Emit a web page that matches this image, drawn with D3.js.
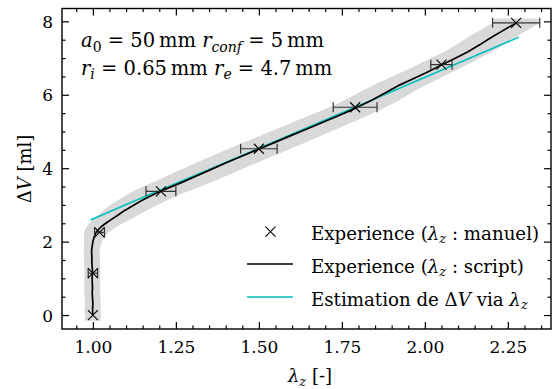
<!DOCTYPE html>
<html>
<head>
<meta charset="utf-8">
<script src="https://cdn.jsdelivr.net/npm/d3@7"></script>
<style>
  html, body { margin: 0; padding: 0; background: #fff; }
  svg { display: block; font-family: "DejaVu Serif", serif; }
</style>
</head>
<body>
<svg id="chart" width="556" height="389"></svg>
<script>
// Stretch ratio λz (script tracking) and volume change ΔV [ml]
const curveLambda = [1.000, 0.999, 1.000, 0.999, 0.998, 0.999, 0.998, 0.998, 0.999, 0.998, 0.997, 0.997, 0.996, 0.998,
  1.000, 1.003, 1.007, 1.012, 1.020, 1.030, 1.042, 1.055, 1.075, 1.096, 1.120, 1.147, 1.175, 1.200, 1.230, 1.270,
  1.310, 1.350, 1.400, 1.450, 1.497, 1.550, 1.600, 1.650, 1.700, 1.745, 1.790, 1.840, 1.880, 1.925, 1.975, 2.010,
  2.050, 2.090, 2.130, 2.165, 2.196, 2.230, 2.255, 2.275];
const curveV = [0.00, 0.15, 0.30, 0.45, 0.60, 0.75, 0.90, 1.05, 1.15, 1.30, 1.45, 1.60, 1.75, 1.88,
  2.00, 2.10, 2.20, 2.28, 2.36, 2.44, 2.52, 2.60, 2.72, 2.85, 2.98, 3.12, 3.25, 3.36, 3.47, 3.62,
  3.78, 3.94, 4.14, 4.33, 4.51, 4.71, 4.90, 5.09, 5.28, 5.45, 5.63, 5.85, 6.05, 6.27, 6.48, 6.63,
  6.81, 6.99, 7.17, 7.36, 7.54, 7.72, 7.85, 7.95];
// Uncertainty on λz along the script curve (grey band)
const curveErr = [0.021, 0.021, 0.021, 0.021, 0.021, 0.021, 0.021, 0.021, 0.021, 0.021, 0.021, 0.021, 0.021, 0.022,
  0.024, 0.027, 0.030, 0.034, 0.038, 0.042, 0.046, 0.050, 0.055, 0.060, 0.064, 0.068, 0.072, 0.075, 0.078, 0.080,
  0.082, 0.083, 0.084, 0.085, 0.085, 0.085, 0.084, 0.083, 0.082, 0.080, 0.078, 0.076, 0.074, 0.072, 0.070, 0.069,
  0.068, 0.067, 0.066, 0.066, 0.065, 0.065, 0.065, 0.065];

// Manual measurements with λz error bars
const manualLambda = [1.000, 1.000, 1.020, 1.205, 1.500, 1.790, 2.050, 2.275];
const manualV = [0.00, 1.14, 2.25, 3.37, 4.53, 5.66, 6.82, 7.96];
const manualErr = [0.000, 0.014, 0.015, 0.045, 0.055, 0.066, 0.032, 0.071];

// ΔV estimated from λz
const estLambda = [0.993, 1.111, 1.497, 1.790, 2.283];
const estV = [2.59, 3.05, 4.53, 5.66, 7.57];

const xTicks = [1.00, 1.25, 1.50, 1.75, 2.00, 2.25];
const yTicks = [0, 2, 4, 6, 8];
const legendLabels = ["manuel", "script"];

const svg = d3.select("#chart");
const L = 62, R = 551, T = 8.5, B = 329;

const x = d3.scaleLinear().domain([0.907, 2.38]).range([L, R]);
const y = d3.scaleLinear().domain([-0.38, 8.35]).range([B, T]);

const clipId = "plotclip";
svg.append("clipPath").attr("id", clipId).append("rect")
  .attr("x", L).attr("y", T).attr("width", R - L).attr("height", B - T);
const plot = svg.append("g").attr("clip-path", `url(#${clipId})`);

// Grey uncertainty band: λz ± err, padded slightly in ΔV at both ends
const n = curveV.length;
const bandPts = [];
bandPts.push([curveLambda[0] - curveErr[0], curveV[0] - 0.13]);
for (let i = 0; i < n; i++) bandPts.push([curveLambda[i] - curveErr[i], curveV[i]]);
bandPts.push([curveLambda[n - 1] - curveErr[n - 1], curveV[n - 1] + 0.1]);
bandPts.push([curveLambda[n - 1] + curveErr[n - 1], curveV[n - 1] + 0.1]);
for (let i = n - 1; i >= 0; i--) bandPts.push([curveLambda[i] + curveErr[i], curveV[i]]);
bandPts.push([curveLambda[0] + curveErr[0], curveV[0] - 0.13]);

const line = d3.line().x(d => x(d[0])).y(d => y(d[1]));
const closed = d3.line().x(d => x(d[0])).y(d => y(d[1])).curve(d3.curveLinearClosed);
plot.append("path")
  .attr("d", closed(bandPts))
  .attr("fill", "#d9d9d9")
  .attr("stroke", "#d9d9d9")
  .attr("stroke-width", 2)
  .attr("stroke-linejoin", "round");

// Estimation line
const estPts = estLambda.map((l, i) => [l, estV[i]]);
plot.append("path")
  .attr("d", line(estPts))
  .attr("fill", "none")
  .attr("stroke", "#00bfbf")
  .attr("stroke-width", 1.6);

// Script curve
const curvePts = curveLambda.map((l, i) => [l, curveV[i]]);
plot.append("path")
  .attr("d", line(curvePts))
  .attr("fill", "none")
  .attr("stroke", "#000")
  .attr("stroke-width", 1.7)
  .attr("stroke-linejoin", "round");

// Manual points: error bars then x markers
const cap = 5;
const eb = plot.append("g").attr("stroke", "#333").attr("stroke-width", 1.2).attr("fill", "none");
manualLambda.forEach((l, i) => {
  const e = manualErr[i];
  if (e <= 0) return;
  const yy = y(manualV[i]);
  eb.append("line").attr("x1", x(l - e)).attr("x2", x(l + e)).attr("y1", yy).attr("y2", yy);
  eb.append("line").attr("x1", x(l - e)).attr("x2", x(l - e)).attr("y1", yy - cap).attr("y2", yy + cap);
  eb.append("line").attr("x1", x(l + e)).attr("x2", x(l + e)).attr("y1", yy - cap).attr("y2", yy + cap);
});
const mk = 5;
function xMarker(g, cx, cy) {
  g.append("path")
    .attr("d", `M${cx - mk},${cy - mk}L${cx + mk},${cy + mk}M${cx - mk},${cy + mk}L${cx + mk},${cy - mk}`)
    .attr("stroke", "#000").attr("stroke-width", 1.1).attr("fill", "none");
}
manualLambda.forEach((l, i) => xMarker(plot, x(l), y(manualV[i])));

// Axes with inward ticks on all four sides
const major = 7, minor = 3.5;
const xMinor = d3.range(0.95, 2.38, 0.05).filter(v => Math.abs(v * 4 - Math.round(v * 4)) > 1e-6);
const yMinor = d3.range(0, 8.35, 0.5).filter(v => Math.abs(v / 2 - Math.round(v / 2)) > 1e-6);

function styleAxis(g) {
  g.select(".domain").remove();
  g.selectAll("line").attr("stroke", "#000").attr("stroke-width", 1.2);
}
const tickFs = 17;
const gb = svg.append("g").attr("transform", `translate(0,${B})`)
  .call(d3.axisBottom(x).tickValues(xTicks).tickSize(-major).tickFormat(d3.format(".2f")));
styleAxis(gb);
gb.selectAll("text").attr("y", 24).attr("dy", null).attr("font-size", tickFs)
  .attr("font-family", "DejaVu Serif").attr("fill", "#000");
svg.append("g").attr("transform", `translate(0,${B})`)
  .call(d3.axisBottom(x).tickValues(xMinor).tickSize(-minor).tickFormat("")).call(styleAxis);
svg.append("g").attr("transform", `translate(0,${T})`)
  .call(d3.axisTop(x).tickValues(xTicks).tickSize(-major).tickFormat("")).call(styleAxis);
svg.append("g").attr("transform", `translate(0,${T})`)
  .call(d3.axisTop(x).tickValues(xMinor).tickSize(-minor).tickFormat("")).call(styleAxis);

const gl = svg.append("g").attr("transform", `translate(${L},0)`)
  .call(d3.axisLeft(y).tickValues(yTicks).tickSize(-major).tickFormat(d3.format("d")));
styleAxis(gl);
gl.selectAll("text").attr("x", -9).attr("dy", "0.36em").attr("font-size", tickFs)
  .attr("font-family", "DejaVu Serif").attr("fill", "#000");
svg.append("g").attr("transform", `translate(${L},0)`)
  .call(d3.axisLeft(y).tickValues(yMinor).tickSize(-minor).tickFormat("")).call(styleAxis);
svg.append("g").attr("transform", `translate(${R},0)`)
  .call(d3.axisRight(y).tickValues(yTicks).tickSize(-major).tickFormat("")).call(styleAxis);
svg.append("g").attr("transform", `translate(${R},0)`)
  .call(d3.axisRight(y).tickValues(yMinor).tickSize(-minor).tickFormat("")).call(styleAxis);

svg.append("rect").attr("x", L).attr("y", T).attr("width", R - L).attr("height", B - T)
  .attr("fill", "none").attr("stroke", "#000").attr("stroke-width", 1.4);

// Rich text helper: parts carry italic (i), reduced size (small) and baseline shift (dy)
function richText(parent, attrs, size, smallSize, parts) {
  const t = parent.append("text").attr("font-size", size);
  Object.entries(attrs).forEach(([k, v]) => t.attr(k, v));
  parts.forEach(p => {
    const s = t.append("tspan").text(p.t);
    if (p.i) s.attr("font-style", "italic");
    if (p.small) s.attr("font-size", smallSize);
    if (p.dy) s.attr("dy", p.dy);
  });
  return t;
}

// Axis titles
const titleFs = 18;
richText(svg, { x: 310, y: 382, "text-anchor": "middle" }, titleFs, 13, [
  { t: "λ", i: true }, { t: "z", i: true, small: true, dy: 3.5 }, { t: " [-]", dy: -3.5 }
]);
richText(svg, { transform: "translate(31,169) rotate(-90)", "text-anchor": "middle" }, titleFs, 13, [
  { t: "Δ" }, { t: "V", i: true }, { t: " [ml]" }
]);

// Parameter annotation
const afs = 19.5;
richText(svg, { x: 81, y: 47 }, afs, 14, [
  { t: "a", i: true }, { t: "0", small: true, dy: 4.5 }, { t: " = 50\u2009mm ", dy: -4.5 },
  { t: "r", i: true }, { t: "conf", i: true, small: true, dy: 4.5 }, { t: " = 5\u2009mm", dy: -4.5 }
]);
richText(svg, { x: 81, y: 74.5 }, afs, 14, [
  { t: "r", i: true }, { t: "i", i: true, small: true, dy: 4.5 }, { t: " = 0.65\u2009mm ", dy: -4.5 },
  { t: "r", i: true }, { t: "e", i: true, small: true, dy: 4.5 }, { t: " = 4.7\u2009mm", dy: -4.5 }
]);

// Legend
const lg = svg.append("g");
xMarker(lg, 270.5, 231.7);
lg.append("line").attr("x1", 247).attr("x2", 293).attr("y1", 264).attr("y2", 264)
  .attr("stroke", "#000").attr("stroke-width", 1.7);
lg.append("line").attr("x1", 247).attr("x2", 293).attr("y1", 297).attr("y2", 297)
  .attr("stroke", "#00bfbf").attr("stroke-width", 1.6);

const legFs = 18.2;
legendLabels.forEach((lab, k) => {
  richText(lg, { x: 311, y: 239.5 + k * 33 }, legFs, 13, [
    { t: "Experience (" }, { t: "λ", i: true }, { t: "z", i: true, small: true, dy: 3.5 },
    { t: " : " + lab + ")", dy: -3.5 }
  ]);
});
richText(lg, { x: 311, y: 305.5 }, legFs, 13, [
  { t: "Estimation de Δ" }, { t: "V", i: true }, { t: " via " }, { t: "λ", i: true },
  { t: "z", i: true, small: true, dy: 3.5 }
]);
</script>
</body>
</html>
